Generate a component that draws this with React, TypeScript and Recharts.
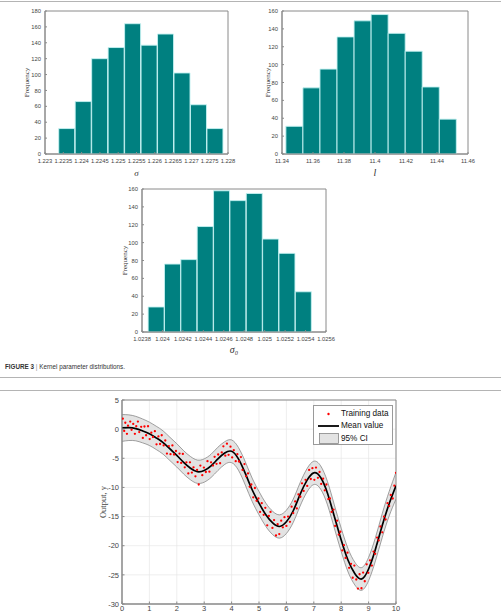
import React from 'react';
import {
  ComposedChart,
  Bar,
  Line,
  Area,
  Scatter,
  XAxis,
  YAxis,
  CartesianGrid,
  Legend,
  ReferenceArea,
} from 'recharts';

// ---- Histogram data (bin centres + counts) ----
const sigmaCenters = [1.2236, 1.22405, 1.2245, 1.22495, 1.2254, 1.22585, 1.2263, 1.22675, 1.2272, 1.22765];
const sigmaCounts = [32, 66, 120, 134, 164, 137, 151, 102, 62, 32];
const sigmaTicks = [1.223, 1.2235, 1.224, 1.2245, 1.225, 1.2255, 1.226, 1.2265, 1.227, 1.2275, 1.228];
const freqTicks180 = [0, 20, 40, 60, 80, 100, 120, 140, 160, 180];

const lengthCenters = [11.348, 11.359, 11.37, 11.381, 11.392, 11.403, 11.414, 11.425, 11.436, 11.447];
const lengthCounts = [31, 74, 95, 131, 149, 156, 135, 115, 75, 39];
const lengthTicks = [11.34, 11.36, 11.38, 11.4, 11.42, 11.44, 11.46];

const sigma0Centers = [1.02394, 1.0241, 1.02426, 1.02442, 1.02458, 1.02474, 1.0249, 1.02506, 1.02522, 1.02538];
const sigma0Counts = [28, 76, 81, 118, 158, 147, 155, 104, 88, 45];
const sigma0Ticks = [1.0238, 1.024, 1.0242, 1.0244, 1.0246, 1.0248, 1.025, 1.0252, 1.0254, 1.0256];
const freqTicks160 = [0, 20, 40, 60, 80, 100, 120, 140, 160];

// ---- GP regression data ----
const meanX = [
  0, 0.25, 0.5, 0.75, 1, 1.25, 1.5, 1.75, 2, 2.25, 2.5, 2.75, 3, 3.25, 3.5, 3.75, 4, 4.25, 4.5, 4.75,
  5, 5.25, 5.5, 5.75, 6, 6.25, 6.5, 6.75, 7, 7.25, 7.5, 7.75, 8, 8.25, 8.5, 8.75, 9, 9.25, 9.5, 9.75, 10,
];
const meanY = [
  0.2, 0.25, 0.1, -0.3, -0.8, -1.5, -2.3, -3.4, -4.5, -5.7, -6.7, -7.3, -7.1, -6.3, -5.1, -4.1, -3.8, -5.1, -7.6, -10.4,
  -12.7, -14.7, -16.1, -16.7, -15.9, -14.0, -11.2, -8.8, -7.5, -8.3, -11.0, -15.0, -19.0, -22.5, -24.8, -25.7, -24.0, -20.6, -16.5, -12.8, -9.7,
];
const ciHalf = [
  2.3, 2.2, 2.1, 2.05, 2.0, 2.0, 2.0, 2.0, 2.0, 2.0, 2.0, 2.0, 2.0, 2.0, 2.0, 1.95, 1.95, 1.95, 2.0, 2.0,
  2.0, 2.0, 2.0, 2.0, 2.0, 2.0, 2.0, 2.0, 2.0, 2.0, 2.0, 2.0, 2.0, 2.0, 1.95, 1.95, 2.0, 2.0, 2.05, 2.1, 2.3,
];

const trainX = [
  0.03, 0.08, 0.12, 0.18, 0.22, 0.3, 0.35, 0.41, 0.47, 0.52, 0.58, 0.63, 0.7, 0.76, 0.82, 0.88, 0.95,
  1.01, 1.07, 1.13, 1.2, 1.26, 1.33, 1.39, 1.45, 1.52, 1.58, 1.64, 1.71, 1.77, 1.84, 1.9, 1.97,
  2.03, 2.1, 2.16, 2.22, 2.29, 2.35, 2.42, 2.48, 2.55, 2.61, 2.68, 2.74, 2.8, 2.86, 2.93, 2.99,
  3.06, 3.12, 3.19, 3.25, 3.32, 3.38, 3.45, 3.51, 3.58, 3.64, 3.7, 3.77, 3.83, 3.89, 3.96,
  4.02, 4.08, 4.15, 4.21, 4.27, 4.34, 4.4, 4.47, 4.53, 4.6, 4.66, 4.72, 4.79, 4.85, 4.91, 4.98,
  5.04, 5.1, 5.17, 5.23, 5.3, 5.36, 5.42, 5.49, 5.55, 5.62, 5.68, 5.74, 5.81, 5.87, 5.93, 6.0,
  6.06, 6.13, 6.19, 6.25, 6.32, 6.38, 6.44, 6.51, 6.57, 6.63, 6.7, 6.76, 6.83, 6.89, 6.95,
  7.02, 7.08, 7.15, 7.21, 7.27, 7.34, 7.4, 7.46, 7.53, 7.59, 7.65, 7.72, 7.78, 7.85, 7.91, 7.97,
  8.04, 8.1, 8.16, 8.23, 8.29, 8.36, 8.42, 8.48, 8.55, 8.61, 8.67, 8.74, 8.8, 8.86, 8.93, 8.99,
  9.05, 9.12, 9.18, 9.24, 9.31, 9.37, 9.43, 9.5, 9.56, 9.62, 9.69, 9.75, 9.81, 9.88, 9.94, 10.0,
];
const trainY = [
  1.8, -0.3, 1.1, -0.8, 0.6, 1.3, -0.1, 0.9, -0.8, 0.5, 1.3, -0.5, 0.4, -1.5, 0.45, -1.05, 0.5,
  -1.7, -0.6, -1.35, -0.35, -2.6, -1.25, -2.55, -1.05, -2.8, -1.95, -4.2, -2.9, -4.3, -2.8, -4.35, -3.75,
  -5.65, -4.2, -5.8, -4.25, -6.55, -5.7, -7.6, -5.7, -7.45, -6.55, -8.1, -7.0, -9.5, -6.25, -7.9, -6.6,
  -7.35, -5.5, -7.3, -5.7, -6.25, -4.75, -5.95, -4.35, -5.85, -4.0, -2.95, -4.55, -2.5, -4.4, -3.0,
  -4.85, -3.6, -5.5, -4.3, -5.55, -4.8, -7.0, -6.0, -8.1, -7.6, -9.9, -9.5, -11.7, -10.1, -12.3, -11.9,
  -14.2, -12.7, -14.7, -13.5, -16.5, -14.9, -14.2, -16.95, -15.6, -18.25, -16.3, -18.0, -15.7, -16.85, -15.1, -16.6,
  -15.0, -15.9, -13.3, -14.4, -12.4, -13.6, -11.2, -11.6, -9.3, -10.6, -8.7, -9.75, -7.0, -8.55, -6.7,
  -8.7, -6.6, -8.35, -7.35, -9.4, -8.5, -10.5, -9.5, -12.0, -11.9, -14.2, -13.8, -16.6, -15.7, -18.1, -17.6,
  -20.8, -19.9, -22.1, -21.2, -23.8, -23.1, -25.5, -23.4, -25.8, -27.35, -24.9, -27.3, -24.6, -26.1, -23.2, -24.65,
  -22.5, -23.4, -21.0, -21.4, -18.6, -19.1, -16.7, -17.7, -15.0, -15.5, -12.7, -13.2, -11.3, -11.9, -9.7, -7.5,
];
const gpXTicks = [0, 1, 2, 3, 4, 5, 6, 7, 8, 9, 10];
const gpYTicks = [-30, -25, -20, -15, -10, -5, 0, 5];

const SANS = '"Liberation Sans", Arial, Helvetica, sans-serif';
const SERIF = '"Liberation Serif", "Times New Roman", serif';
const AXIS = '#8a8a8a';

const HIST_TICK = { fontSize: 5.8, fill: '#444', fontFamily: SANS };

interface HistProps {
  centers: number[];
  counts: number[];
  xTicks: number[];
  yTicks: number[];
  xLabel: string;
  xLabelSize: number;
  xLabelOffset: number;
  left: number;
  top: number;
  width: number;
  yAxisWidth: number;
  rightMargin: number;
  yLabelOffset: number;
}

function Histogram(p: HistProps) {
  const data = p.centers.map((c, i) => ({ c, n: p.counts[i] }));
  const xDomain = [p.xTicks[0], p.xTicks[p.xTicks.length - 1]];
  const yDomain = [0, p.yTicks[p.yTicks.length - 1]];
  return (
    <div style={{ position: 'absolute', left: p.left, top: p.top }}>
      <ComposedChart
        width={p.width}
        height={180}
        data={data}
        margin={{ top: 11, right: p.rightMargin, bottom: 0, left: 0 }}
        barCategoryGap={0}
        barGap={0}
      >
        <XAxis
          dataKey="c"
          type="number"
          domain={xDomain}
          ticks={p.xTicks}
          interval={0}
          allowDataOverflow
          height={26}
          stroke={AXIS}
          tickSize={-2}
          tickMargin={7}
          tick={HIST_TICK}
          label={{
            value: p.xLabel,
            position: 'insideBottom',
            offset: p.xLabelOffset,
            style: { fontFamily: SERIF, fontStyle: 'italic', fontSize: p.xLabelSize, fill: '#333' },
          }}
        />
        <YAxis
          domain={yDomain}
          ticks={p.yTicks}
          interval={0}
          allowDataOverflow
          width={p.yAxisWidth}
          stroke={AXIS}
          tickSize={-2}
          tickMargin={6}
          tick={HIST_TICK}
          label={{
            value: 'Frequency',
            angle: -90,
            position: 'insideLeft',
            offset: p.yLabelOffset,
            style: { fontFamily: SERIF, fontSize: 7, fill: '#333', textAnchor: 'middle' },
          }}
        />
        <Bar dataKey="n" fill="#008080" stroke="#c4f2f2" strokeWidth={0.9} isAnimationActive={false} />
        {/* axes box */}
        <ReferenceArea
          x1={xDomain[0]}
          x2={xDomain[1]}
          y1={yDomain[0]}
          y2={yDomain[1]}
          fill="none"
          stroke={AXIS}
          strokeWidth={1}
        />
      </ComposedChart>
    </div>
  );
}

const gpData = meanX.map((x, i) => ({
  x,
  mean: meanY[i],
  band: [meanY[i] - ciHalf[i], meanY[i] + ciHalf[i]],
}));
const trainData = trainX.map((x, i) => ({ x, y: trainY[i] }));

const RedDot = (props: any) => <circle cx={props.cx} cy={props.cy} r={1.15} fill="#ff0000" />;

function GpLegend() {
  const row = { display: 'flex', alignItems: 'center', height: 12.5 };
  return (
    <div
      style={{
        width: 80,
        height: 40,
        boxSizing: 'border-box',
        border: '1px solid #9a9a9a',
        background: '#fff',
        paddingTop: 1.5,
        fontFamily: SANS,
        fontSize: 8.2,
        color: '#111',
        lineHeight: 1,
        whiteSpace: 'nowrap',
      }}
    >
      <div style={row}>
        <svg width={25} height={10} style={{ marginLeft: 2 }}>
          <circle cx={12.5} cy={5} r={1.2} fill="#ff0000" />
        </svg>
        <span>Training data</span>
      </div>
      <div style={row}>
        <svg width={25} height={10} style={{ marginLeft: 2 }}>
          <line x1={2} y1={5} x2={23} y2={5} stroke="#000" strokeWidth={1.8} />
        </svg>
        <span>Mean value</span>
      </div>
      <div style={row}>
        <svg width={25} height={11} style={{ marginLeft: 2 }}>
          <rect x={3.5} y={0.5} width={19} height={10} fill="#e3e3e3" stroke="#777" strokeWidth={0.7} />
        </svg>
        <span>95% CI</span>
      </div>
    </div>
  );
}

const GP_TICK = { fontSize: 7.5, fill: '#444', fontFamily: SANS };

function GpChart() {
  return (
    <div style={{ position: 'absolute', left: 80, top: 390 }}>
      <ComposedChart width={330} height={224} data={gpData} margin={{ top: 10, right: 14, bottom: 0, left: 0 }}>
        <CartesianGrid stroke="#e6e6e6" strokeWidth={0.7} />
        <XAxis
          dataKey="x"
          type="number"
          domain={[0, 10]}
          ticks={gpXTicks}
          interval={0}
          allowDataOverflow
          height={10}
          stroke={AXIS}
          tickSize={-2.5}
          tickMargin={4.5}
          tick={GP_TICK}
        />
        <YAxis
          domain={[-30, 5]}
          ticks={gpYTicks}
          interval={0}
          allowDataOverflow
          width={42}
          stroke={AXIS}
          tickSize={-2.5}
          tickMargin={5.5}
          tick={GP_TICK}
          label={{
            value: 'Output, y',
            angle: -90,
            position: 'insideLeft',
            offset: 23,
            style: { fontFamily: SERIF, fontSize: 8.5, fill: '#444', textAnchor: 'middle' },
          }}
        />
        <Area
          type="natural"
          dataKey="band"
          fill="#e3e3e3"
          fillOpacity={1}
          stroke="#7a7a7a"
          strokeWidth={0.7}
          isAnimationActive={false}
        />
        <Scatter data={trainData} dataKey="y" shape={RedDot} isAnimationActive={false} />
        <Line type="natural" dataKey="mean" stroke="#000" strokeWidth={1.7} dot={false} isAnimationActive={false} />
        {/* axes box */}
        <ReferenceArea x1={0} x2={10} y1={-30} y2={5} fill="none" stroke={AXIS} strokeWidth={1} />
        <Legend
          layout="vertical"
          align="center"
          verticalAlign="middle"
          content={() => <GpLegend />}
          wrapperStyle={{ left: 233, top: 15, width: 80, height: 40 }}
        />
      </ComposedChart>
    </div>
  );
}

export default function App() {
  return (
    <div style={{ position: 'absolute', left: 0, top: 0, width: 501, height: 614, overflow: 'hidden', background: '#fff' }}>
      <div style={{ position: 'absolute', left: 0, top: 1, width: 501, borderTop: '1px solid #b4b4b4' }} />
      <Histogram
        centers={sigmaCenters}
        counts={sigmaCounts}
        xTicks={sigmaTicks}
        yTicks={freqTicks180}
        xLabel="σ"
        xLabelSize={9}
        xLabelOffset={4}
        left={0}
        top={0}
        width={240}
        yAxisWidth={45}
        rightMargin={12}
        yLabelOffset={27}
      />
      <Histogram
        centers={lengthCenters}
        counts={lengthCounts}
        xTicks={lengthTicks}
        yTicks={freqTicks160}
        xLabel="l"
        xLabelSize={10}
        xLabelOffset={4}
        left={250}
        top={0}
        width={230}
        yAxisWidth={32}
        rightMargin={12}
        yLabelOffset={18}
      />
      <Histogram
        centers={sigma0Centers}
        counts={sigma0Counts}
        xTicks={sigma0Ticks}
        yTicks={freqTicks160}
        xLabel="σ₀"
        xLabelSize={10}
        xLabelOffset={5}
        left={100}
        top={178}
        width={340}
        yAxisWidth={42}
        rightMargin={114}
        yLabelOffset={25}
      />
      <div
        style={{
          position: 'absolute',
          left: 5,
          top: 363,
          fontFamily: SANS,
          fontSize: 6.3,
          color: '#333',
          whiteSpace: 'nowrap',
        }}
      >
        <b>FIGURE 3</b> <span style={{ color: '#888' }}>|</span> Kernel parameter distributions.
      </div>
      <div style={{ position: 'absolute', left: 0, top: 377, width: 501, borderTop: '1px solid #b4b4b4' }} />
      <div style={{ position: 'absolute', left: 0, top: 390, width: 501, borderTop: '1px solid #b4b4b4' }} />
      <GpChart />
    </div>
  );
}
